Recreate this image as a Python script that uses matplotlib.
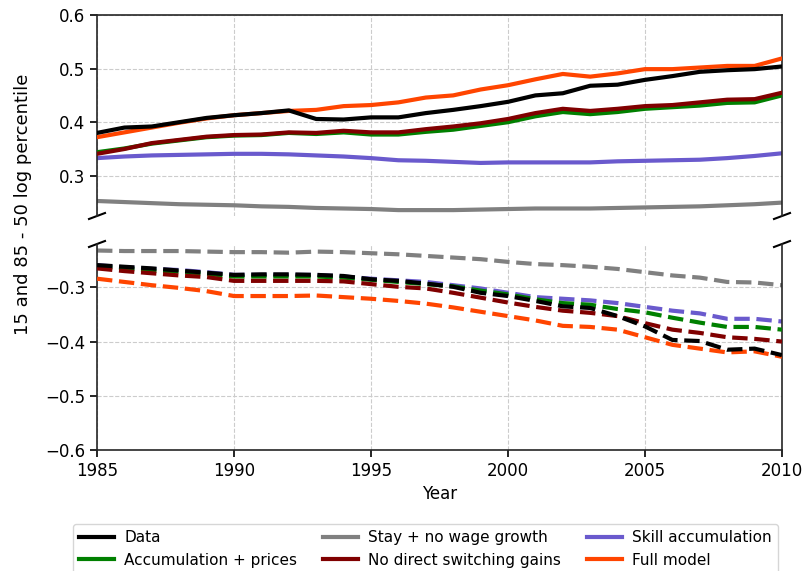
import matplotlib
matplotlib.use("Agg")
import matplotlib.pyplot as plt
import numpy as np

years = list(range(1985, 2011))

# Upper (85-50) series
data_top = [0.380, 0.390, 0.392, 0.400, 0.408, 0.413, 0.417, 0.422, 0.406, 0.405, 0.409, 0.409, 0.417,
            0.423, 0.430, 0.438, 0.450, 0.454, 0.468, 0.470, 0.479, 0.486, 0.494, 0.497, 0.499, 0.504]
accum_top = [0.344, 0.351, 0.360, 0.366, 0.372, 0.375, 0.376, 0.380, 0.378, 0.381, 0.377, 0.377, 0.382,
             0.386, 0.393, 0.400, 0.411, 0.419, 0.415, 0.419, 0.425, 0.428, 0.431, 0.436, 0.437, 0.450]
stay_top = [0.253, 0.251, 0.249, 0.247, 0.246, 0.245, 0.243, 0.242, 0.240, 0.239, 0.238, 0.236, 0.236,
            0.236, 0.237, 0.238, 0.239, 0.239, 0.239, 0.240, 0.241, 0.242, 0.243, 0.245, 0.247, 0.250]
noswitch_top = [0.341, 0.350, 0.361, 0.367, 0.373, 0.376, 0.377, 0.381, 0.380, 0.384, 0.381, 0.381, 0.387,
                0.392, 0.398, 0.406, 0.417, 0.425, 0.421, 0.425, 0.430, 0.432, 0.437, 0.442, 0.443, 0.455]
skill_top = [0.333, 0.336, 0.338, 0.339, 0.340, 0.341, 0.341, 0.340, 0.338, 0.336, 0.333, 0.329, 0.328,
             0.326, 0.324, 0.325, 0.325, 0.325, 0.325, 0.327, 0.328, 0.329, 0.330, 0.333, 0.337, 0.342]
full_top = [0.372, 0.381, 0.390, 0.399, 0.407, 0.413, 0.417, 0.421, 0.423, 0.430, 0.432, 0.437, 0.446,
            0.450, 0.461, 0.469, 0.480, 0.490, 0.485, 0.491, 0.499, 0.499, 0.502, 0.505, 0.505, 0.519]

# Lower (15-50) series
data_bot = [-0.259, -0.262, -0.265, -0.269, -0.273, -0.277, -0.276, -0.276, -0.277, -0.279, -0.285, -0.288, -0.293,
            -0.299, -0.310, -0.316, -0.325, -0.335, -0.338, -0.353, -0.372, -0.397, -0.399, -0.415, -0.413, -0.425]
accum_bot = [-0.261, -0.265, -0.269, -0.271, -0.275, -0.280, -0.280, -0.280, -0.280, -0.282, -0.286, -0.290, -0.294,
             -0.298, -0.306, -0.313, -0.322, -0.329, -0.332, -0.340, -0.346, -0.356, -0.365, -0.373, -0.373, -0.378]
stay_bot = [-0.232, -0.233, -0.233, -0.233, -0.234, -0.235, -0.235, -0.236, -0.234, -0.235, -0.237, -0.239, -0.242,
            -0.245, -0.248, -0.253, -0.257, -0.259, -0.262, -0.266, -0.272, -0.278, -0.282, -0.290, -0.291, -0.296]
noswitch_bot = [-0.265, -0.270, -0.274, -0.278, -0.281, -0.288, -0.288, -0.288, -0.288, -0.289, -0.294, -0.299, -0.302,
                -0.310, -0.319, -0.328, -0.336, -0.343, -0.347, -0.353, -0.366, -0.378, -0.384, -0.392, -0.395, -0.400]
skill_bot = [-0.259, -0.263, -0.266, -0.268, -0.272, -0.277, -0.277, -0.277, -0.277, -0.280, -0.284, -0.287, -0.290,
             -0.296, -0.302, -0.310, -0.318, -0.321, -0.324, -0.329, -0.336, -0.343, -0.348, -0.358, -0.358, -0.363]
full_bot = [-0.284, -0.290, -0.296, -0.301, -0.307, -0.316, -0.316, -0.316, -0.315, -0.318, -0.321, -0.325, -0.330,
            -0.337, -0.345, -0.353, -0.361, -0.371, -0.373, -0.378, -0.392, -0.406, -0.413, -0.420, -0.418, -0.428]

labels = ["Data", "Accumulation + prices", "Stay + no wage growth",
          "No direct switching gains", "Skill accumulation", "Full model"]
colors = ["black", "green", "gray", "maroon", "slateblue", "orangered"]
tops = [data_top, accum_top, stay_top, noswitch_top, skill_top, full_top]
bots = [data_bot, accum_bot, stay_bot, noswitch_bot, skill_bot, full_bot]
zorder = [6, 3, 2, 4, 2, 5]

plt.rcParams['font.family'] = ['DejaVu Sans']
plt.rcParams['font.size'] = 11

W, H = 806, 571
fig = plt.figure(figsize=(W / 100, H / 100), dpi=100)
L, R = 97 / W, 782 / W
ax1 = fig.add_axes([L, 1 - 216 / H, R - L, (216 - 15) / H])
ax2 = fig.add_axes([L, 1 - 450 / H, R - L, (450 - 244) / H])

handles = []
for lab, c, t, b, z in zip(labels, colors, tops, bots, zorder):
    h, = ax1.plot(years, t, color=c, lw=3, zorder=z, label=lab)
    ax2.plot(years, b, color=c, lw=3, ls='--', zorder=z)
    handles.append(h)

ax1.set_ylim(0.225, 0.6)
ax2.set_ylim(-0.6, -0.22)
for ax in (ax1, ax2):
    ax.set_xlim(1985, 2010)
    ax.grid(True, ls='--', color='#cccccc', lw=0.8)
    ax.set_axisbelow(True)
    ax.tick_params(direction='out', length=5, width=1.2, labelsize=12)
    for s in ax.spines.values():
        s.set_color('#262626')
        s.set_linewidth(1.2)

ax1.set_yticks([0.3, 0.4, 0.5, 0.6])
ax2.set_yticks([-0.6, -0.5, -0.4, -0.3])
ax1.spines['bottom'].set_visible(False)
ax2.spines['top'].set_visible(False)
ax1.tick_params(axis='x', which='both', bottom=False, labelbottom=False)
ax2.set_xticks([1985, 1990, 1995, 2000, 2005, 2010])
ax2.set_xlabel("Year", fontsize=12)

# break marks
dx = 8 / 685
dy1 = 3 / 201
dy2 = 3 / 206
kw = dict(color='black', lw=1.5, clip_on=False)
ax1.plot((-dx, dx), (-dy1, dy1), transform=ax1.transAxes, **kw)
ax1.plot((1 - dx, 1 + dx), (-dy1, dy1), transform=ax1.transAxes, **kw)
ax2.plot((-dx, dx), (1 - dy2, 1 + dy2), transform=ax2.transAxes, **kw)
ax2.plot((1 - dx, 1 + dx), (1 - dy2, 1 + dy2), transform=ax2.transAxes, **kw)

fig.text(23 / W, 1 - 204 / H, "15 and 85 - 50 log percentile", rotation=90,
         ha='center', va='center', fontsize=13)

fig.legend(handles, labels, ncol=3, loc='upper left',
           bbox_to_anchor=(73 / W, 1 - 524 / H),
           borderaxespad=0, fontsize=11, handlelength=2.3, handletextpad=0.65,
           columnspacing=1.7)

fig.savefig("out.png", dpi=100)
